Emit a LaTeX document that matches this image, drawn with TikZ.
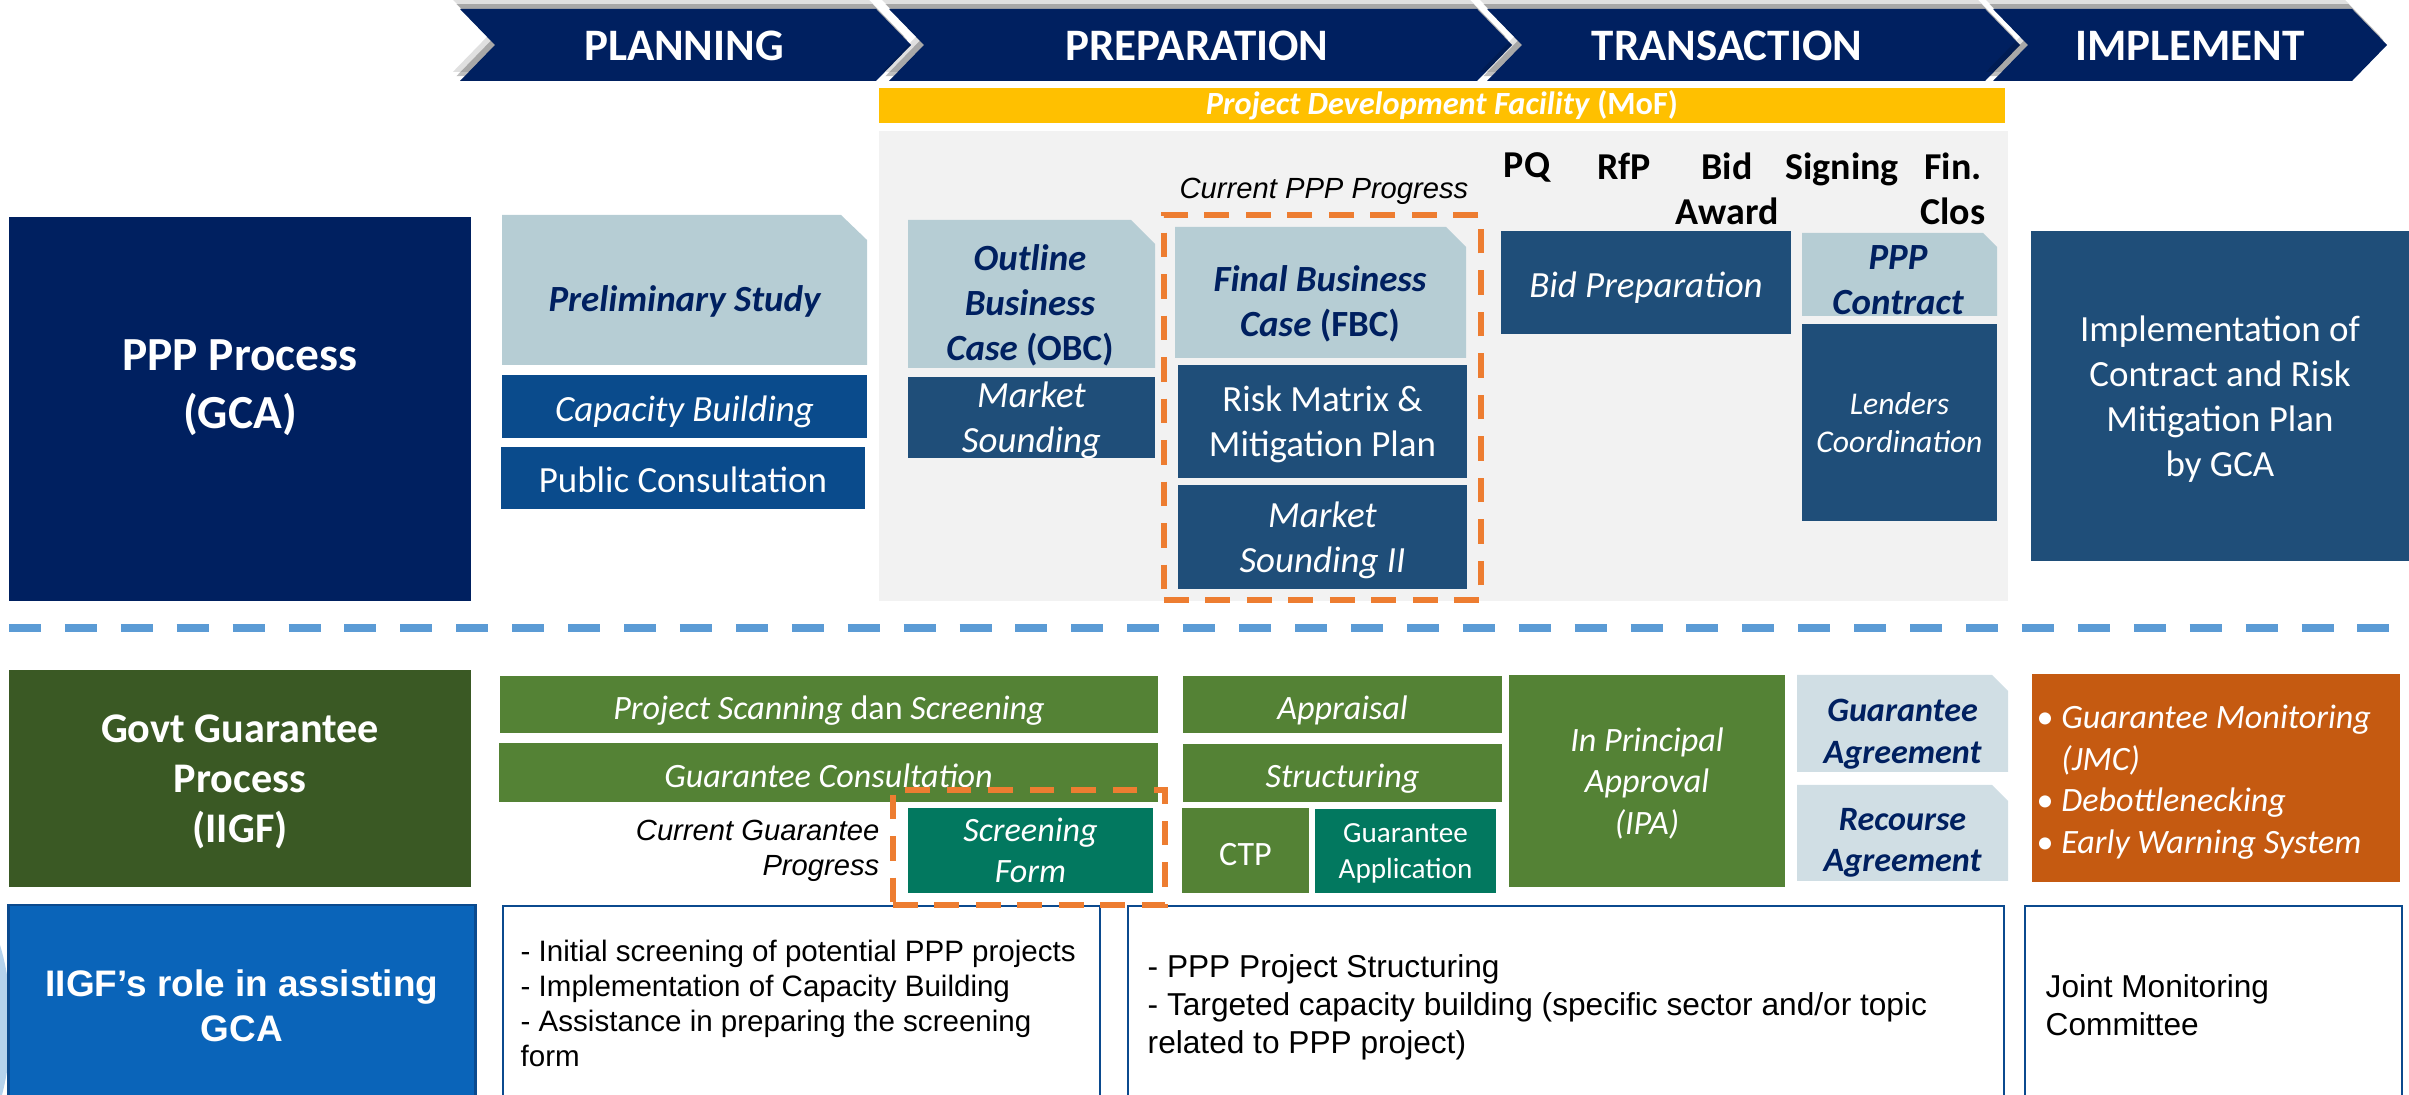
\documentclass[tikz,border=0pt]{standalone}
\usepackage{fontspec}
\setmainfont{Carlito}
\newfontfamily\arialfont{Liberation Sans}
\usetikzlibrary{shadows}

\definecolor{navy}{HTML}{002060}
\definecolor{gold}{HTML}{FFC000}
\definecolor{panel}{HTML}{F2F2F2}
\definecolor{lite}{HTML}{B6CDD4}
\definecolor{paler}{HTML}{D0DEE4}
\definecolor{royal}{HTML}{0A4B8C}
\definecolor{slate}{HTML}{1F4E79}
\definecolor{leaf}{HTML}{548235}
\definecolor{moss}{HTML}{3A5924}
\definecolor{jade}{HTML}{02785F}
\definecolor{rust}{HTML}{C55A11}
\definecolor{tang}{HTML}{ED7D31}
\definecolor{sky}{HTML}{5B9BD5}
\definecolor{cobalt}{HTML}{0A64B9}
\definecolor{rim}{HTML}{0B4A8E}

\tikzset{
  chevron/.style = {fill = navy,
    drop shadow = {shadow xshift = -2pt, shadow yshift = 2.6pt, opacity = 0.12, fill = black},
    drop shadow = {shadow xshift = -1pt, shadow yshift = 1.4pt, opacity = 0.25, fill = black}},
  phase/.style = {text = white, inner sep = 0, font = \fontsize{12.8}{15}\selectfont\bfseries},
  tile/.style = {inner sep = 0, text = white, align = center, font = \fontsize{10.5}{12.8}\selectfont, text depth = -0.8pt},
  bar/.style = {text height = 11.5pt, text depth = 3.2pt},
  slanted/.style = {font = \fontsize{10.5}{12.8}\selectfont\itshape},
  gtile/.style = {tile, font = \fontsize{9.7}{11.8}\selectfont, text depth = -3.6pt},
  gslanted/.style = {tile, font = \fontsize{9.7}{11.8}\selectfont\itshape, text depth = -3.6pt},
  sniptext/.style = {inner sep = 0, align = center, text = navy, font = \fontsize{10.5}{12.8}\selectfont\bfseries\itshape},
  head/.style = {text = white, align = center, inner sep = 0, font = \fontsize{13.5}{16.5}\selectfont\bfseries},
  milestone/.style = {inner sep = 0, align = center, anchor = north, font = \fontsize{10.8}{12.8}\selectfont\bfseries},
  note/.style = {inner sep = 0, font = \arialfont\fontsize{8.3}{10}\selectfont\itshape},
  role/.style = {fill = white, draw = rim, line width = 0.6pt, inner sep = 0, minimum height = 2.04cm},
  remark/.style = {inner sep = 0, align = left, anchor = north west, font = \arialfont\fontsize{9}{10.8}\selectfont},
  dashbox/.style = {draw = tang, line width = 1.6pt, dash pattern = on 7pt off 4.8pt, inner sep = 0}
}

\begin{document}
\begin{tikzpicture}[x = 0.01cm, y = -0.01cm]
  \useasboundingbox (0, 0) rectangle (2409, 1095);

  \fill [chevron] (460, 9) -- (876, 9) -- (911, 45) -- (876, 81) -- (460, 81) -- (495, 45) -- cycle;
  \fill [chevron] (889, 9) -- (1477, 9) -- (1512, 45) -- (1477, 81) -- (889, 81) -- (924, 45) -- cycle;
  \fill [chevron] (1487, 9) -- (1985, 9) -- (2020, 45) -- (1985, 81) -- (1487, 81) -- (1522, 45) -- cycle;
  \fill [chevron] (1993, 9) -- (2352, 9) -- (2387, 45) -- (2352, 81) -- (1993, 81) -- (2028, 45) -- cycle;
  \node [phase] (planning) at (684, 46) {PLANNING};
  \node [phase] (preparation) at (1197, 46) {PREPARATION};
  \node [phase] (transaction) at (1727, 46) {TRANSACTION};
  \node [phase] (implementation) at (2190, 46) {IMPLEMENT};

  \node [fill = gold, text = white, inner sep = 0, minimum width = 11.26cm, minimum height = 0.35cm, font = \fontsize{9.2}{11}\selectfont\bfseries] (pdf) at (1442, 105.5) {\textit{Project Development Facility} (MoF)};
  \node [fill = panel, inner sep = 0, minimum width = 11.29cm, minimum height = 4.7cm] (prep) at (1443.5, 366) {};

  \node [fill = navy, inner sep = 0, minimum width = 4.62cm, minimum height = 3.84cm] (gca) at (240, 409) {};
  \node [head] (gcalabel) at (240, 388) {PPP Process\\(GCA)};

  \fill [lite] (502, 215) -- (841, 215) -- (867, 240) -- (867, 365) -- (502, 365) -- cycle;
  \node [sniptext] (prelim) at (684.5, 301) {Preliminary Study};
  \node [tile, slanted, bar, fill = royal, minimum width = 3.65cm, minimum height = 0.63cm] (capacity) at (684.5, 406.5) {Capacity Building};
  \node [tile, bar, fill = royal, minimum width = 3.64cm, minimum height = 0.62cm] (consult) at (683, 478) {Public Consultation};

  \fill [lite] (908, 220) -- (1131, 220) -- (1155, 244) -- (1155, 368) -- (908, 368) -- cycle;
  \node [sniptext] (obc) at (1030, 305) {Outline\\Business\\Case \textup{(OBC)}};
  \node [tile, slanted, fill = slate, minimum width = 2.47cm, minimum height = 0.81cm] (sounding) at (1031.5, 417.5) {Market\\Sounding};

  \fill [lite] (1175, 227) -- (1446, 227) -- (1466, 247) -- (1466, 358) -- (1175, 358) -- cycle;
  \node [sniptext] (fbc) at (1320, 304) {Final Business\\Case \textup{(FBC)}};
  \node [tile, fill = slate, minimum width = 2.89cm, minimum height = 1.13cm, text depth = -1.2pt] (risk) at (1322.5, 421.5) {Risk Matrix \&\\Mitigation Plan};
  \node [tile, slanted, fill = slate, minimum width = 2.89cm, minimum height = 1.04cm, text depth = -1.2pt] (soundingii) at (1322.5, 537) {Market\\Sounding II};
  \node [note] (pppnote) at (1324, 191) {Current PPP Progress};

  \node [milestone] (pq) at (1527, 152) {PQ};
  \node [milestone] (rfp) at (1624, 152) {RfP};
  \node [milestone] (award) at (1727, 152) {Bid\\Award};
  \node [milestone] (signing) at (1842, 152) {Signing};
  \node [milestone] (close) at (1953, 152) {Fin.\\Clos};

  \node [tile, slanted, bar, fill = slate, minimum width = 2.9cm, minimum height = 1.03cm] (bidprep) at (1646, 282.5) {Bid Preparation};
  \fill [lite] (1802, 233) -- (1983, 233) -- (1997, 247) -- (1997, 316) -- (1802, 316) -- cycle;
  \node [sniptext] (contract) at (1898, 280) {PPP\\Contract};
  \node [tile, fill = slate, minimum width = 1.95cm, minimum height = 1.97cm, font = \fontsize{9}{10.8}\selectfont\itshape, text depth = 0pt] (lenders) at (1899.5, 422.5) {Lenders\\Coordination};
  \node [tile, fill = slate, minimum width = 3.78cm, minimum height = 3.3cm] (execution) at (2220, 396) {Implementation of\\Contract and Risk\\Mitigation Plan\\by GCA};

  \draw [sky, line width = 2.3pt, dash pattern = on 9.1pt off 6.8pt] (9, 628) -- (2409, 628);

  \node [tile, fill = moss, minimum width = 4.62cm, minimum height = 2.17cm, font = \fontsize{12}{14.2}\selectfont\bfseries, text depth = -3.9pt] (iigf) at (240, 778.5) {Govt Guarantee\\Process\\(IIGF)};
  \node [gtile, bar, fill = leaf, minimum width = 6.58cm, minimum height = 0.57cm] (scanning) at (829, 704.5) {\textit{Project Scanning} dan \textit{Screening}};
  \node [gslanted, bar, fill = leaf, minimum width = 6.59cm, minimum height = 0.59cm] (consultation) at (828.5, 772.5) {Guarantee Consultation};
  \node [note, align = right, anchor = east] (gnote) at (880, 851) {Current Guarantee\\Progress};
  \node [gslanted, fill = jade, minimum width = 2.45cm, minimum height = 0.85cm] (form) at (1030.5, 850.5) {Screening\\Form};

  \node [gslanted, bar, fill = leaf, minimum width = 3.19cm, minimum height = 0.57cm] (appraisal) at (1342.5, 704.5) {Appraisal};
  \node [gslanted, bar, fill = leaf, minimum width = 3.19cm, minimum height = 0.58cm] (structuring) at (1342.5, 773) {Structuring};
  \node [gtile, bar, fill = leaf, minimum width = 1.27cm, minimum height = 0.85cm] (ctp) at (1245.5, 850.5) {CTP};
  \node [gtile, fill = jade, minimum width = 1.81cm, minimum height = 0.84cm, font = \fontsize{8.3}{10.5}\selectfont] (application) at (1405.5, 851) {Guarantee\\Application};
  \node [gslanted, fill = leaf, minimum width = 2.76cm, minimum height = 2.12cm] (ipa) at (1647, 781) {In Principal\\Approval\\(IPA)};

  \fill [paler] (1797, 675) -- (1992, 675) -- (2008, 691) -- (2008, 772) -- (1797, 772) -- cycle;
  \node [sniptext, font = \fontsize{9.7}{11.8}\selectfont\bfseries\itshape] (gagreement) at (1902.5, 734) {Guarantee\\Agreement};
  \fill [paler] (1797, 785) -- (1992, 785) -- (2008, 801) -- (2008, 881) -- (1797, 881) -- cycle;
  \node [sniptext, font = \fontsize{9.7}{11.8}\selectfont\bfseries\itshape] (recourse) at (1902.5, 843) {Recourse\\Agreement};

  \node [fill = rust, inner sep = 0, minimum width = 3.68cm, minimum height = 2.08cm] (monitoring) at (2216, 778) {};
  \node [text = white, inner sep = 0, align = left, anchor = west, font = \fontsize{9.7}{11.8}\selectfont] (watch) at (2036, 782) {\textbullet\ \textit{Guarantee Monitoring}\\\phantom{\textbullet\ }\textit{(JMC)}\\\textbullet\ \textit{Debottlenecking}\\\textbullet\ \textit{Early Warning System}};

  \fill [sky!45] (0, 945) .. controls (14, 990) and (14, 1050) .. (2, 1095) -- (0, 1095) -- cycle;
  \node [fill = cobalt, draw = rim, line width = 0.8pt, inner sep = 0, minimum width = 4.66cm, minimum height = 2.05cm] (assist) at (242, 1007.5) {};
  \node [head, font = \arialfont\fontsize{10.5}{12.8}\selectfont\bfseries] (assistlabel) at (242, 1006) {IIGF’s role in assisting\\GCA};

  \node [role, minimum width = 5.97cm] (planrole) at (801.5, 1008) {};
  \node [remark, font = \arialfont\fontsize{8.4}{10}\selectfont] (plantext) at (520, 939) {- Initial screening of potential PPP projects\\- Implementation of Capacity Building\\- Assistance in preparing the screening\\form};
  \node [role, minimum width = 8.76cm] (preprole) at (1566, 1008) {};
  \node [remark] (preptext) at (1147, 954) {- PPP Project Structuring\\- Targeted capacity building (specific sector and/or topic\\related to PPP project)};
  \node [role, minimum width = 3.77cm] (jointrole) at (2213.5, 1008) {};
  \node [remark] (jointtext) at (2045, 974) {Joint Monitoring\\Committee};

  \node [dashbox, minimum width = 3.17cm, minimum height = 3.85cm] (pppnow) at (1322.5, 407.5) {};
  \node [dashbox, minimum width = 2.72cm, minimum height = 1.15cm] (gnow) at (1029, 847.5) {};
\end{tikzpicture}
\end{document}
